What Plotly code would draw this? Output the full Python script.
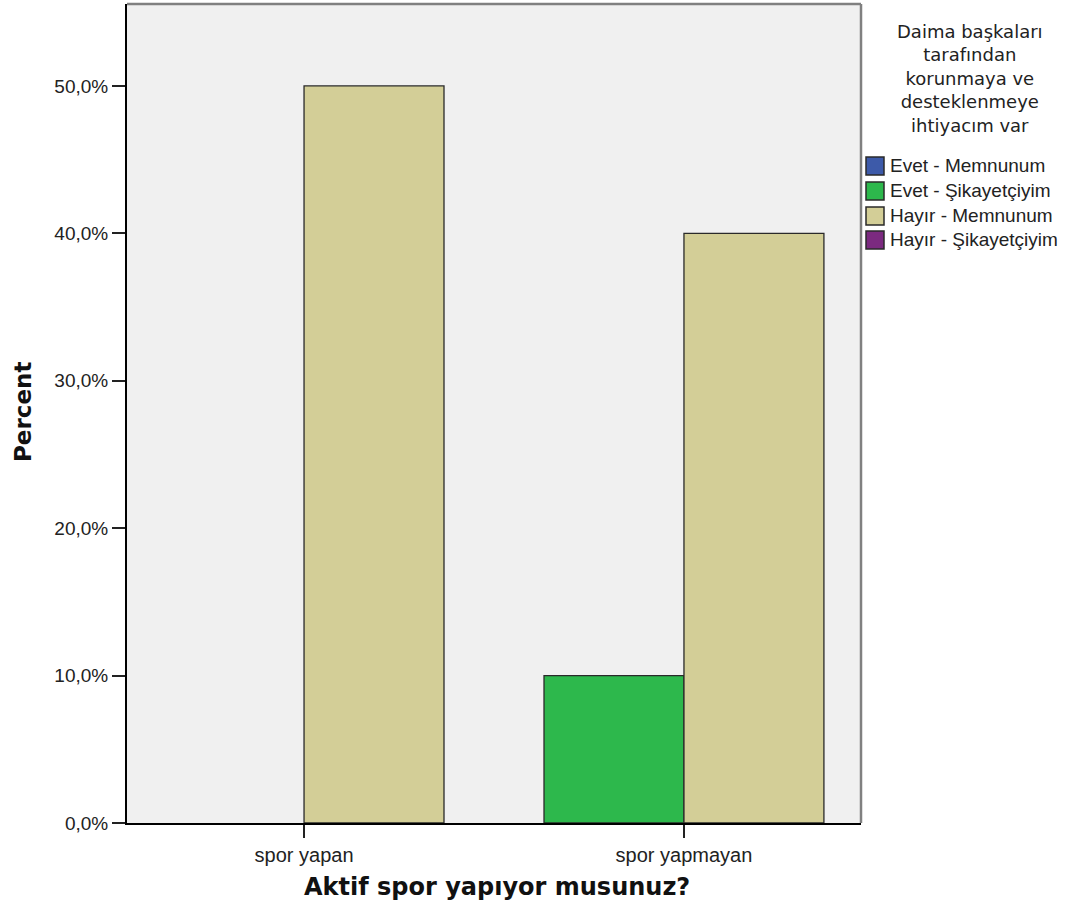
import plotly.graph_objects as go

categories = ["spor yapan", "spor yapmayan"]
series_names = ["Evet - Memnunum", "Evet - Şikayetçiyim", "Hayır - Memnunum", "Hayır - Şikayetçiyim"]
evet_memnunum = [None, None]
evet_sikayetciyim = [None, 10.0]
hayir_memnunum = [50.0, 40.0]
hayir_sikayetciyim = [None, None]
y_ticks = [0, 10, 20, 30, 40, 50]
y_tick_labels = ["0,0%", "10,0%", "20,0%", "30,0%", "40,0%", "50,0%"]
legend_title = "Daima başkaları<br>tarafından<br>korunmaya ve<br>desteklenmeye<br>ihtiyacım var"
x_title = "Aktif spor yapıyor musunuz?"
y_title = "Percent"

colors = ["#3d5aa9", "#2db84c", "#d3ce97", "#7b2a80"]
values = [evet_memnunum, evet_sikayetciyim, hayir_memnunum, hayir_sikayetciyim]
offsets = [-0.3684, -0.3684, 0.0, 0.0]
W = 0.3684

# plot area in pixels
PL, PR, PT, PB = 127, 861, 4, 823
FW, FH = 1077, 915


def px(x):
    return (x - PL) / (PR - PL)


def py(y):
    return (PB - y) / (PB - PT)


fig = go.Figure()
for name, vals, col, off in zip(series_names, values, colors, offsets):
    fig.add_trace(go.Bar(
        x=categories, y=vals, name=name,
        marker=dict(color=col, line=dict(color="#2a2a2a", width=1.3)),
        width=W, offset=off, showlegend=False,
    ))

REG = "Arial, Liberation Sans, sans-serif"
BOLD = "DejaVu Sans, sans-serif"

fig.update_layout(
    width=FW, height=FH,
    margin=dict(l=PL, r=FW - PR, t=PT, b=FH - PB),
    paper_bgcolor="white",
    plot_bgcolor="#f0f0f0",
    barmode="overlay",
    font=dict(family=REG, size=19, color="#222222"),
    showlegend=False,
    xaxis=dict(
        type="category", range=[-0.466, 1.466],
        showline=True, linecolor="black", linewidth=2,
        ticks="outside", ticklen=13, tickcolor="#222222", tickwidth=1.5,
        tickfont=dict(size=20, color="#222222", family=REG),
        showgrid=False, zeroline=False,
    ),
    yaxis=dict(
        range=[0, 55.56],
        tickvals=y_ticks, ticktext=y_tick_labels,
        showline=True, linecolor="black", linewidth=2,
        ticks="outside", ticklen=13, tickcolor="#222222", tickwidth=1.5,
        tickfont=dict(size=19, color="#222222", family=REG),
        showgrid=False, zeroline=False,
    ),
)

# top and right frame (grey)
fig.add_shape(type="line", xref="paper", yref="paper", x0=0, y0=1, x1=1, y1=1,
              line=dict(color="#808080", width=2.5), layer="above")
fig.add_shape(type="line", xref="paper", yref="paper", x0=1, y0=0, x1=1, y1=1,
              line=dict(color="#808080", width=2.5), layer="above")

# axis titles
fig.add_annotation(text="<b>" + x_title + "</b>", xref="paper", yref="paper",
                   x=px(497), y=py(887), xanchor="center", yanchor="middle",
                   showarrow=False, font=dict(family=BOLD, size=24, color="#111111"))
fig.add_annotation(text="<b>" + y_title + "</b>", xref="paper", yref="paper",
                   x=px(23), y=py(412), xanchor="center", yanchor="middle", textangle=-90,
                   showarrow=False, font=dict(family=BOLD, size=23, color="#111111"))

# legend (title + swatches)
fig.add_annotation(text=legend_title, xref="paper", yref="paper",
                   x=px(970), y=py(78), xanchor="center", yanchor="middle", align="center",
                   showarrow=False, font=dict(family="DejaVu Sans, sans-serif", size=18, color="#222222"))
item_y = [166, 191, 216, 240]
for name, col, yc in zip(series_names, colors, item_y):
    fig.add_shape(type="rect", xref="paper", yref="paper",
                  x0=px(866), x1=px(884), y0=py(yc - 9), y1=py(yc + 9),
                  fillcolor=col, line=dict(color="#2a2a2a", width=1.5))
    fig.add_annotation(text=name, xref="paper", yref="paper",
                       x=px(888), y=py(yc), xanchor="left", yanchor="middle",
                       showarrow=False, font=dict(family=REG, size=19, color="#222222"))

fig.write_html("out.html", config={"displayModeBar": False},
               post_script="document.body.style.margin='0px';")
